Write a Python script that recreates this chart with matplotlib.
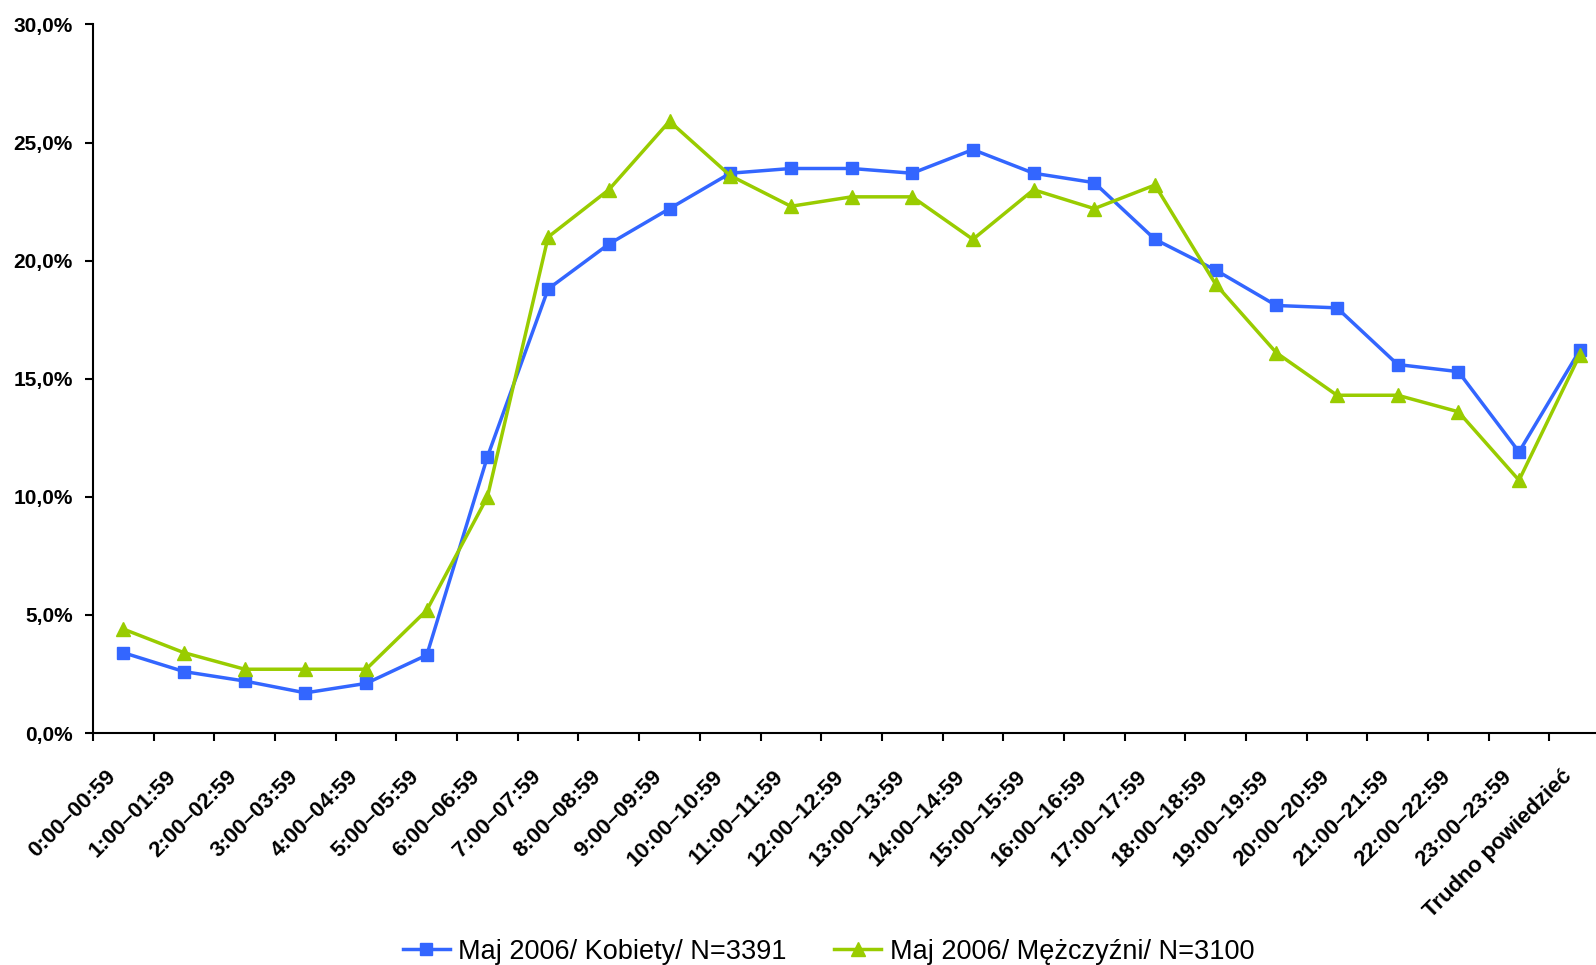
import matplotlib
matplotlib.use("Agg")
import matplotlib.pyplot as plt
from matplotlib.ticker import FuncFormatter, FixedLocator
from matplotlib.transforms import ScaledTranslation
import numpy as np

plt.rcParams['font.family'] = ['Liberation Sans', 'DejaVu Sans']

categories = ["0:00–00:59", "1:00–01:59", "2:00–02:59", "3:00–03:59", "4:00–04:59",
              "5:00–05:59", "6:00–06:59", "7:00–07:59", "8:00–08:59", "9:00–09:59",
              "10:00–10:59", "11:00–11:59", "12:00–12:59", "13:00–13:59", "14:00–14:59",
              "15:00–15:59", "16:00–16:59", "17:00–17:59", "18:00–18:59", "19:00–19:59",
              "20:00–20:59", "21:00–21:59", "22:00–22:59", "23:00–23:59", "Trudno powiedzieć"]
kobiety = [3.4, 2.6, 2.2, 1.7, 2.1, 3.3, 11.7, 18.8, 20.7, 22.2,
           23.7, 23.9, 23.9, 23.7, 24.7, 23.7, 23.3, 20.9, 19.6, 18.1,
           18.0, 15.6, 15.3, 11.9, 16.2]
mezczyzni = [4.4, 3.4, 2.7, 2.7, 2.7, 5.2, 10.0, 21.0, 23.0, 25.9,
             23.6, 22.3, 22.7, 22.7, 20.9, 23.0, 22.2, 23.2, 19.0, 16.1,
             14.3, 14.3, 13.6, 10.7, 16.0]
labels = ["Maj 2006/ Kobiety/ N=3391", "Maj 2006/ Mężczyźni/ N=3100"]

fig = plt.figure(figsize=(15.96, 9.65), dpi=100)
ax = fig.add_axes([0.0583, 0.2404, 0.9505, 0.7343])

x = np.arange(len(categories))
ax.plot(x, kobiety, color='#3366FF', lw=2.5, marker='s', ms=8, label=labels[0], clip_on=False, zorder=3)
ax.plot(x, mezczyzni, color='#99CC00', lw=2.5, marker='^', ms=10, label=labels[1], clip_on=False, zorder=3)

ax.set_xlim(-0.5, len(categories) - 0.5)
ax.set_ylim(0, 30)
ax.yaxis.set_major_locator(FixedLocator([0, 5, 10, 15, 20, 25, 30]))
ax.yaxis.set_major_formatter(FuncFormatter(lambda v, p: f"{v:.1f}%".replace('.', ',')))
ax.tick_params(axis='y', length=6, width=1.5, labelsize=15, direction='out', pad=8.5)
for t in ax.yaxis.get_major_ticks():
    t.label1.set_fontweight('bold')

ax.xaxis.set_major_locator(FixedLocator(np.arange(-0.5, len(categories), 1.0)))
ax.xaxis.set_major_formatter(FuncFormatter(lambda v, p: ""))
ax.xaxis.set_minor_locator(FixedLocator(x))
ax.set_xticklabels(categories, minor=True, rotation=45, ha='right', va='top',
                   rotation_mode='anchor', fontsize=16, fontweight='bold')
ax.tick_params(axis='x', which='major', length=6, width=1.5, direction='out')
ax.tick_params(axis='x', which='minor', length=0, pad=24)
shift = ScaledTranslation(-0.18, 0, fig.dpi_scale_trans)
for lab in ax.get_xticklabels(minor=True):
    lab.set_transform(lab.get_transform() + shift)

for s in ['top', 'right']:
    ax.spines[s].set_visible(False)
for s in ['left', 'bottom']:
    ax.spines[s].set_linewidth(1.5)

fig.legend(loc='center', bbox_to_anchor=(0.519, 0.0135), ncol=2, frameon=False,
           fontsize=19.5, handlelength=1.75, columnspacing=1.75, handletextpad=0.3)

fig.savefig("out.png", dpi=100)
